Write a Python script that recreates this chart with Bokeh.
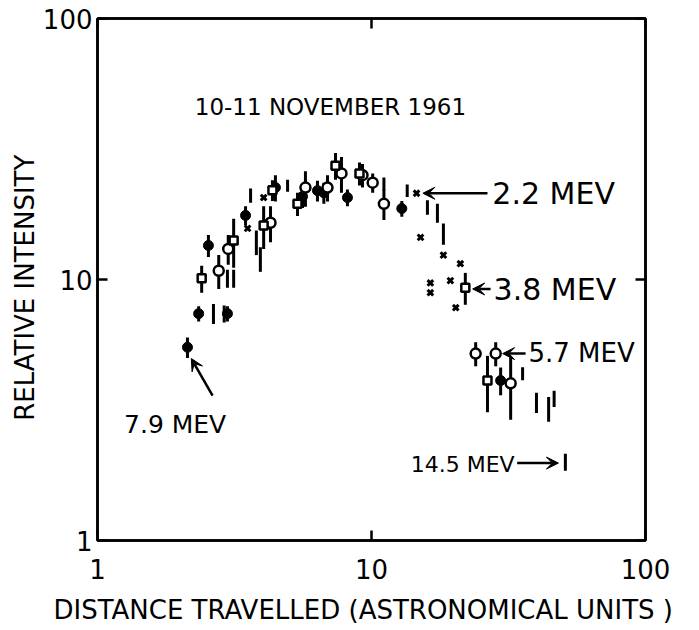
from bokeh.plotting import figure
from bokeh.models import Range1d, FixedTicker, LogAxis, Label, Arrow, VeeHead
from bokeh.embed import file_html
from bokeh.resources import INLINE

# ---- data ----
# 7.9 MEV : filled circles
x79 = [2.13, 2.34, 2.98, 2.54, 3.47, 4.46, 5.6, 6.35, 6.7, 8.17, 12.9, 29.6]
y79 = [5.5, 7.4, 7.4, 13.5, 17.6, 22.5, 20.8, 21.9, 21.5, 20.6, 18.7, 4.1]
e79 = [0.5, 0.5, 0.5, 1.3, 1.5, 2.6, 2.0, 2.0, 2.0, 1.5, 1.3, 0.5]
# 5.7 MEV : open circles
x57 = [2.77, 3.0, 4.28, 5.74, 6.91, 7.77, 9.27, 10.1, 11.1, 24.0, 28.4, 32.2]
y57 = [10.8, 13.1, 16.5, 22.5, 22.5, 25.5, 25.1, 23.5, 19.5, 5.2, 5.2, 4.0]
e57 = [1.6, 1.7, 2.6, 3.5, 2.6, 4.0, 2.6, 2.0, 2.6, 0.55, 0.55, 1.1]
# 3.8 MEV : open squares
x38 = [2.40, 3.14, 4.04, 4.35, 5.37, 7.39, 9.04, 22.0, 26.5]
y38 = [10.1, 14.1, 16.1, 22.0, 19.5, 27.3, 25.5, 9.3, 4.1]
e38 = [1.2, 3.0, 3.0, 2.0, 2.0, 3.2, 2.6, 1.3, 1.0]
# 2.2 MEV : crosses
x22 = [3.53, 4.04, 14.6, 15.1, 16.4, 16.4, 18.3, 19.4, 20.3, 21.1]
y22 = [15.7, 20.6, 21.4, 14.5, 9.7, 8.9, 12.4, 9.9, 7.8, 11.5]
# 14.5 MEV : error bars only
x145 = [2.65, 2.9, 2.98, 3.14, 3.62, 3.80, 3.93, 4.94, 11.1, 13.5, 16.0, 17.4, 18.3, 35.6, 40.0, 44.3, 46.4, 51.0]
y145 = [7.4, 7.4, 10.1, 10.1, 21.0, 13.9, 12.0, 22.9, 23.3, 21.9, 18.9, 18.0, 15.0, 4.36, 3.38, 3.2, 3.5, 2.0]
e145 = [0.65, 0.55, 0.8, 0.8, 1.3, 1.5, 1.3, 1.2, 1.3, 1.2, 1.2, 1.5, 1.4, 0.25, 0.3, 0.35, 0.25, 0.15]

xticks = [1, 10, 100]
yticks = [1, 10, 100]
tick_labels = {1: "1", 10: "10", 100: "100"}
blank_labels = {1: "", 10: "", 100: ""}

FONT = "DejaVu Sans"

p = figure(x_axis_type="log", y_axis_type="log",
           frame_width=548, frame_height=522,
           min_border_left=97, min_border_right=50, min_border_top=18, min_border_bottom=90,
           x_range=Range1d(1, 100), y_range=Range1d(1, 100),
           output_backend="svg", toolbar_location=None)
p.background_fill_color = "white"
p.border_fill_color = "white"
p.grid.visible = False
p.outline_line_color = "black"
p.outline_line_width = 2.5

def style_axis(ax, show_labels=True):
    ax.ticker = FixedTicker(ticks=xticks)
    ax.minor_tick_line_color = None
    ax.major_tick_in = 10
    ax.major_tick_out = 0
    ax.major_tick_line_width = 2.5
    ax.major_tick_line_color = "black"
    ax.axis_line_width = 2.5
    ax.axis_line_color = "black"
    if show_labels:
        ax.major_label_overrides = tick_labels
        ax.major_label_text_font = FONT
        ax.major_label_text_font_size = "26px"
        ax.major_label_text_color = "black"
    else:
        ax.major_label_overrides = blank_labels
        ax.major_label_standoff = 0

style_axis(p.xaxis[0])
p.xaxis[0].major_label_standoff = 18
p.xaxis[0].axis_label = "DISTANCE  TRAVELLED (ASTRONOMICAL  UNITS )"
p.xaxis[0].axis_label_text_font = FONT
p.xaxis[0].axis_label_text_font_style = "normal"
p.xaxis[0].axis_label_text_font_size = "26px"
p.xaxis[0].axis_label_text_color = "black"
p.xaxis[0].axis_label_standoff = 13

style_axis(p.yaxis[0])
p.yaxis[0].ticker = FixedTicker(ticks=yticks)
p.yaxis[0].major_label_standoff = 5
p.yaxis[0].major_label_orientation = "horizontal"
p.yaxis[0].axis_label = "RELATIVE   INTENSITY"
p.yaxis[0].axis_label_text_font = FONT
p.yaxis[0].axis_label_text_font_style = "normal"
p.yaxis[0].axis_label_text_font_size = "26px"
p.yaxis[0].axis_label_text_color = "black"
p.yaxis[0].axis_label_standoff = 0

top = LogAxis()
style_axis(top, show_labels=False)
p.add_layout(top, "above")
right = LogAxis()
style_axis(right, show_labels=False)
right.ticker = FixedTicker(ticks=yticks)
p.add_layout(right, "right")

# error bars
def ebars(xs, ys, es):
    p.segment(x0=xs, x1=xs, y0=[y - e for y, e in zip(ys, es)], y1=[y + e for y, e in zip(ys, es)],
              line_color="black", line_width=3)

ebars(x79, y79, e79)
ebars(x57, y57, e57)
ebars(x38, y38, e38)
ebars(x145, y145, e145)

p.scatter(x79, y79, marker="circle", size=10, fill_color="black", line_color="black")
p.scatter(x57, y57, marker="circle", size=10, fill_color="white", line_color="black", line_width=2.5)
p.scatter(x38, y38, marker="square", size=8, fill_color="white", line_color="black", line_width=2.5)
p.scatter(x22, y22, marker="x", size=8, line_color="black", line_width=3)

# annotations
def lab(x, y, t, align="left", size="24px"):
    p.add_layout(Label(x=x, y=y, text=t, text_font=FONT, text_font_size=size,
                       text_align=align, text_baseline="middle", text_color="black"))

def arr(x0, y0, x1, y1):
    p.add_layout(Arrow(x_start=x0, y_start=y0, x_end=x1, y_end=y1, line_width=2.5, line_color="black",
                       end=VeeHead(size=12, fill_color="black", line_color="black")))

lab(7.08, 46, "10-11 NOVEMBER 1961", align="center", size="23px")
lab(27.6, 21.4, "2.2   MEV", size="30px")
arr(26.5, 21.4, 15.4, 21.4)
lab(27.9, 9.16, "3.8   MEV", size="30px")
arr(27.2, 9.2, 23.4, 9.2)
lab(37.4, 5.25, "5.7 MEV", size="26px")
arr(36.5, 5.2, 30.1, 5.2)
lab(1.25, 2.78, "7.9 MEV", size="25px")
arr(2.63, 3.59, 2.20, 4.98)
lab(13.9, 1.96, "14.5 MEV", size="22px")
arr(34.0, 1.98, 48.1, 1.98)

open("out.html", "w").write(file_html(p, INLINE))
